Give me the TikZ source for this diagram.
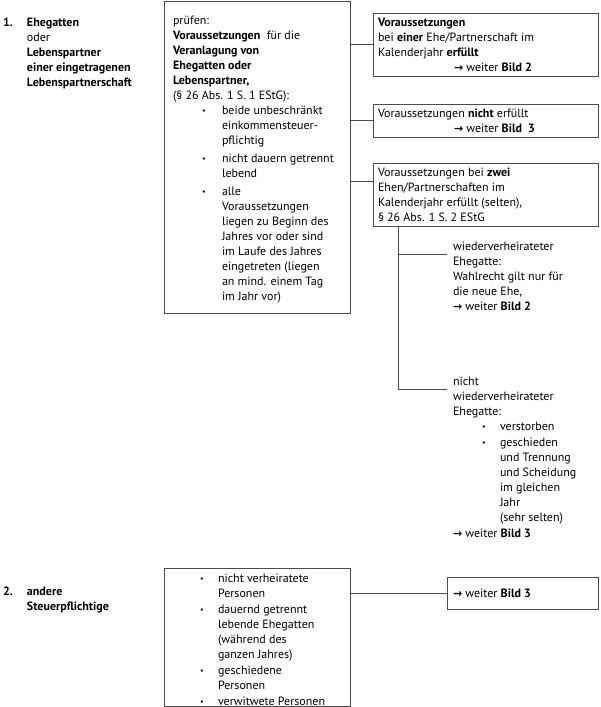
\documentclass[tikz,border=0pt]{standalone}
\usepackage{fontspec}
\setmainfont{PT Sans}
\newfontfamily\arrowfont{DejaVu Sans}
\newcommand{\arr}{{\arrowfont\bfseries\fontsize{11}{11}\selectfont →}}
\newcommand{\bitem}[2]{\hspace*{#1}\makebox[#2][l]{\raisebox{0.5pt}{\fontsize{8}{8}\selectfont •}}}
\newcommand{\cont}[1]{\hspace*{#1}}
\newcommand{\fs}{\fontsize{12}{15}\selectfont}
\newcommand{\fl}{\rule{0pt}{10pt}}
\begin{document}
\begin{tikzpicture}[x=1pt,y=-1pt,
  txt/.style={anchor=north west, inner sep=0pt, outer sep=0pt, align=left, font=\fs, text=black},
  boxst/.style={draw=black!70, line width=0.7pt, anchor=north west, inner sep=0pt, outer sep=0pt},
  conn/.style={draw=black!70, line width=0.7pt}]
\useasboundingbox (0,0) rectangle (600,707);
% node y = first baseline - 10

% ---------- section 1 ----------
\node[txt, font=\fs\bfseries] (num1) at (3,16) {\fl 1.};
\node[txt] (left1) at (27,16) {\fl\textbf{Ehegatten}\\ oder\\ \textbf{Lebenspartner}\\ \textbf{einer eingetragenen}\\ \textbf{Lebenspartnerschaft}};

\node[boxst, minimum width=186pt, minimum height=312pt] (box1) at (164,1) {};
\node[txt] (box1txt) at (173,14) {\fl prüfen:\\
\textbf{Voraussetzungen}\ \ für die\\
\textbf{Veranlagung von}\\
\textbf{Ehegatten oder}\\
\textbf{Lebenspartner,}\\
(§ 26 Abs. 1 S. 1 EStG):\\
\bitem{29pt}{20pt}beide unbeschränkt\\
\cont{49pt}einkommensteuer-\\
\cont{49pt}pflichtig\\[3pt]
\bitem{29pt}{20pt}nicht dauern getrennt\\
\cont{49pt}lebend\\[3pt]
\bitem{29pt}{20pt}alle\\
\cont{49pt}Voraussetzungen\\
\cont{49pt}liegen zu Beginn des\\
\cont{49pt}Jahres vor oder sind\\
\cont{49pt}im Laufe des Jahres\\
\cont{49pt}eingetreten (liegen\\
\cont{49pt}an mind. einem Tag\\
\cont{49pt}im Jahr vor)};

\node[boxst, minimum width=225pt, minimum height=63pt] (boxA) at (373,13) {};
\node[txt] (boxAtxt) at (378,16) {\fl\textbf{Voraussetzungen}\\
bei \textbf{einer} Ehe/Partnerschaft im\\
Kalenderjahr \textbf{erfüllt}\\
\cont{76pt}\arr\ weiter \textbf{Bild 2}};

\node[boxst, minimum width=225pt, minimum height=33pt] (boxB) at (373,104) {};
\node[txt] (boxBtxt) at (378,107) {\fl Voraussetzungen \textbf{nicht} erfüllt\\
\cont{76pt}\arr\ weiter \textbf{Bild\ \ 3}};

\node[boxst, minimum width=225pt, minimum height=63pt] (boxC) at (373,163) {};
\node[txt] (boxCtxt) at (378,166) {\fl Voraussetzungen bei \textbf{zwei}\\
Ehen/Partnerschaften im\\
Kalenderjahr erfüllt (selten),\\
§ 26 Abs. 1 S. 2 EStG};

\node[txt] (br1txt) at (453,240) {\fl wiederverheirateter\\
Ehegatte:\\
Wahlrecht gilt nur für\\
die neue Ehe,\\
\arr\ weiter \textbf{Bild 2}};

\node[txt] (br2txt) at (453,375) {\fl nicht\\
wiederverheirateter\\
Ehegatte:\\
\bitem{29pt}{18pt}verstorben\\[1pt]
\bitem{29pt}{18pt}geschieden\\
\cont{47pt}und Trennung\\
\cont{47pt}und Scheidung\\
\cont{47pt}im gleichen\\
\cont{47pt}Jahr\\
\cont{47pt}(sehr selten)\\[1pt]
\arr\ weiter \textbf{Bild 3}};

\coordinate (cC) at (373,181);
\coordinate (vtop) at (398,226);
\coordinate (b1) at (447,254);
\coordinate (b2) at (447,389);

\draw[conn] (box1.east |- boxA.west) -- (boxA.west);
\draw[conn] (box1.east |- boxB.west) -- (boxB.west);
\draw[conn] (box1.east |- cC) -- (cC);
\draw[conn] (vtop) -- (vtop |- b2) -- (b2);
\draw[conn] (vtop |- b1) -- (b1);

% ---------- section 2 ----------
\node[txt, font=\fs\bfseries] (num2) at (3,585) {\fl 2.};
\node[txt] (left2) at (27,585) {\fl\textbf{andere}\\ \textbf{Steuerpflichtige}};

\node[boxst, minimum width=186pt, minimum height=138pt] (boxD) at (164,568) {};
\node[txt] (boxDtxt) at (200,572) {\fl\bitem{0pt}{18pt}nicht verheiratete\\
\cont{18pt}Personen\\[1pt]
\bitem{0pt}{18pt}dauernd getrennt\\
\cont{18pt}lebende Ehegatten\\
\cont{18pt}(während des\\
\cont{18pt}ganzen Jahres)\\[1pt]
\bitem{0pt}{18pt}geschiedene\\
\cont{18pt}Personen\\[1pt]
\bitem{0pt}{18pt}verwitwete Personen};

\node[boxst, minimum width=151pt, minimum height=32pt] (boxE) at (447,577) {};
\node[txt] (boxEtxt) at (453,587) {\fl\arr\ weiter \textbf{Bild 3}};

\draw[conn] (boxD.east |- boxE.west) -- (boxE.west);
\end{tikzpicture}
\end{document}
